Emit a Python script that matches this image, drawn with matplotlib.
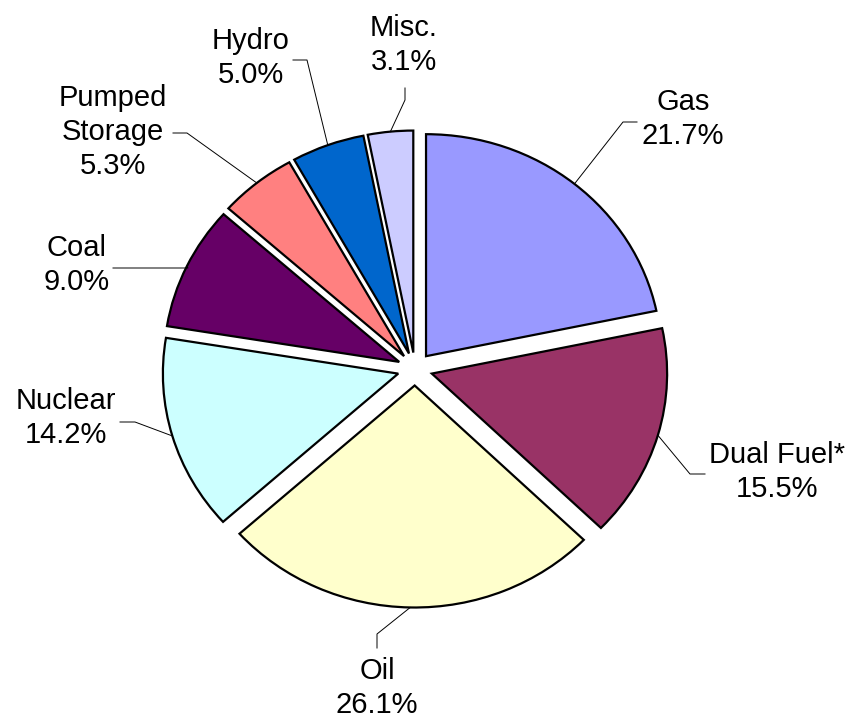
import numpy as np
import matplotlib
matplotlib.use('Agg')
import matplotlib.pyplot as plt

# data (clockwise from 12 o'clock)
sources = ['Gas', 'Dual Fuel*', 'Oil', 'Nuclear', 'Coal', 'Pumped\nStorage', 'Hydro', 'Misc.']
shares = [21.7, 15.5, 26.1, 14.2, 9.0, 5.3, 5.0, 3.1]
colors = ['#9999FF', '#993366', '#FFFFCC', '#CCFFFF', '#660066', '#FF8080', '#0066CC', '#CCCCFF']

# layout in pixels (image coords, y down): label block centre and leader elbow
label_pos = [(683, 119), (777, 472), (377, 688), (66, 418), (77, 265), (113, 132), (251, 58), (404, 45)]
elbow = [(623, 122), (690, 474), (377, 634), (135, 422), (188, 268), (187, 133), (307, 60), (405, 100)]
elbow_end = [(637, 122), (705, 474), (377, 648), (120, 422), (113, 268), (173, 133), (293, 60), (405, 88)]

W, H = 850, 718
sx = 1.06  # the original pie is a little wider than tall
plt.rcParams['font.family'] = ['Liberation Sans', 'DejaVu Sans']

fig = plt.figure(figsize=(8.5, 7.18), dpi=100)
ax = fig.add_axes([0, 0, 1, 1])

wedges, _ = ax.pie(shares, colors=colors, startangle=90, counterclock=False,
                   explode=[16.5] * len(shares), radius=222, center=(415 / sx, H - 369),
                   wedgeprops=dict(edgecolor='black', linewidth=1.6))

ax.set_xlim(0, W / sx)
ax.set_ylim(0, H)
ax.set_aspect('auto')
ax.axis('off')

for w, name, val, lp, e1, e2 in zip(wedges, sources, shares, label_pos, elbow, elbow_end):
    tm = np.deg2rad((w.theta1 + w.theta2) / 2)
    cx, cy = w.center
    px = cx + w.r * np.cos(tm)
    py = cy + w.r * np.sin(tm)
    ax.plot([px, e1[0] / sx, e2[0] / sx], [py, H - e1[1], H - e2[1]], color='black', lw=0.7)
    ax.text(lp[0] / sx, H - lp[1], '%s\n%.1f%%' % (name, val), ha='center', va='center',
            fontsize=21, linespacing=1.25)

fig.savefig('out.png', dpi=100)
